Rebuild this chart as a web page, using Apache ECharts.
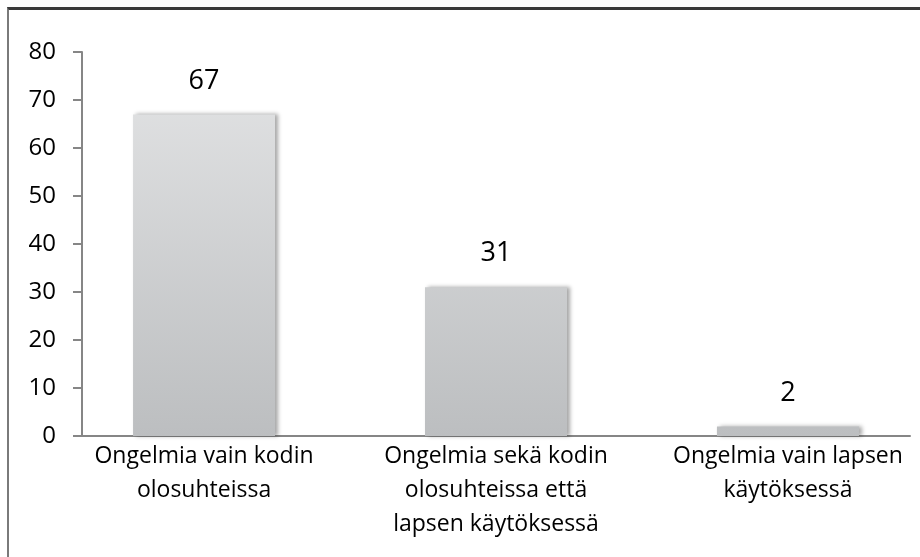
<!DOCTYPE html>
<html>
<head>
<meta charset="utf-8">
<script src="https://cdn.jsdelivr.net/npm/echarts@6/dist/echarts.min.js"></script>
<style>
  body { margin: 0; background: #fff; }
  #wrap { position: relative; width: 920px; height: 557px; }
  #main { width: 920px; height: 557px; }
  #frame { position: absolute; left: 7px; top: 7px; right: 0; bottom: 0;
           border-top: 3px solid #3a3a3a; border-left: 2px solid #7a7a7a; pointer-events: none; }
</style>
</head>
<body>
<div id="wrap">
  <div id="main"></div>
  <div id="frame"></div>
</div>
<script>
var categories = [
  "Ongelmia vain kodin\nolosuhteissa",
  "Ongelmia sekä kodin\nolosuhteissa että\nlapsen käytöksessä",
  "Ongelmia vain lapsen\nkäytöksessä"
];
var values = [67, 31, 2];
var yTicks = [0, 10, 20, 30, 40, 50, 60, 70, 80];

var chart = echarts.init(document.getElementById('main'));
var font = "'Open Sans', sans-serif";

// bars positioned on a value axis so the spacing matches the original layout
var barData = [];
for (var i = 0; i < values.length; i++) {
  barData.push([i, values[i]]);
}

chart.setOption({
  animation: false,
  grid: { left: 82, right: 10, top: 52, bottom: 121 },
  xAxis: {
    type: 'value',
    min: -0.418,
    max: 2.418,
    splitLine: { show: false },
    axisTick: { show: false },
    axisLine: { show: true, onZero: false, lineStyle: { color: '#868686', width: 2 } },
    axisLabel: {
      customValues: [0, 1, 2],
      formatter: function (v) { return categories[Math.round(v)]; },
      fontFamily: font,
      fontSize: 23,
      lineHeight: 34,
      color: '#000',
      margin: 3,
      verticalAlign: 'top'
    }
  },
  yAxis: {
    type: 'value',
    min: 0,
    max: 80,
    interval: 10,
    splitLine: { show: false },
    axisLine: { show: true, onZero: false, lineStyle: { color: '#868686', width: 2 } },
    axisTick: { show: true, length: 9, lineStyle: { color: '#868686', width: 2 } },
    axisLabel: {
      customValues: yTicks,
      fontFamily: font,
      fontSize: 24,
      color: '#000',
      margin: 26
    }
  },
  series: [{
    type: 'bar',
    barWidth: 142,
    data: barData,
    itemStyle: {
      color: new echarts.graphic.LinearGradient(0, 52, 0, 436, [
        { offset: 0, color: '#e4e5e6' },
        { offset: 1, color: '#bcbec0' }
      ], true),
      shadowColor: 'rgba(0,0,0,0.35)',
      shadowBlur: 4,
      shadowOffsetX: 3,
      shadowOffsetY: 0
    },
    label: {
      show: true,
      position: 'top',
      distance: 20,
      fontFamily: font,
      fontSize: 27,
      color: '#000',
      formatter: function (p) { return p.value[1]; }
    }
  }]
});
</script>
</body>
</html>
